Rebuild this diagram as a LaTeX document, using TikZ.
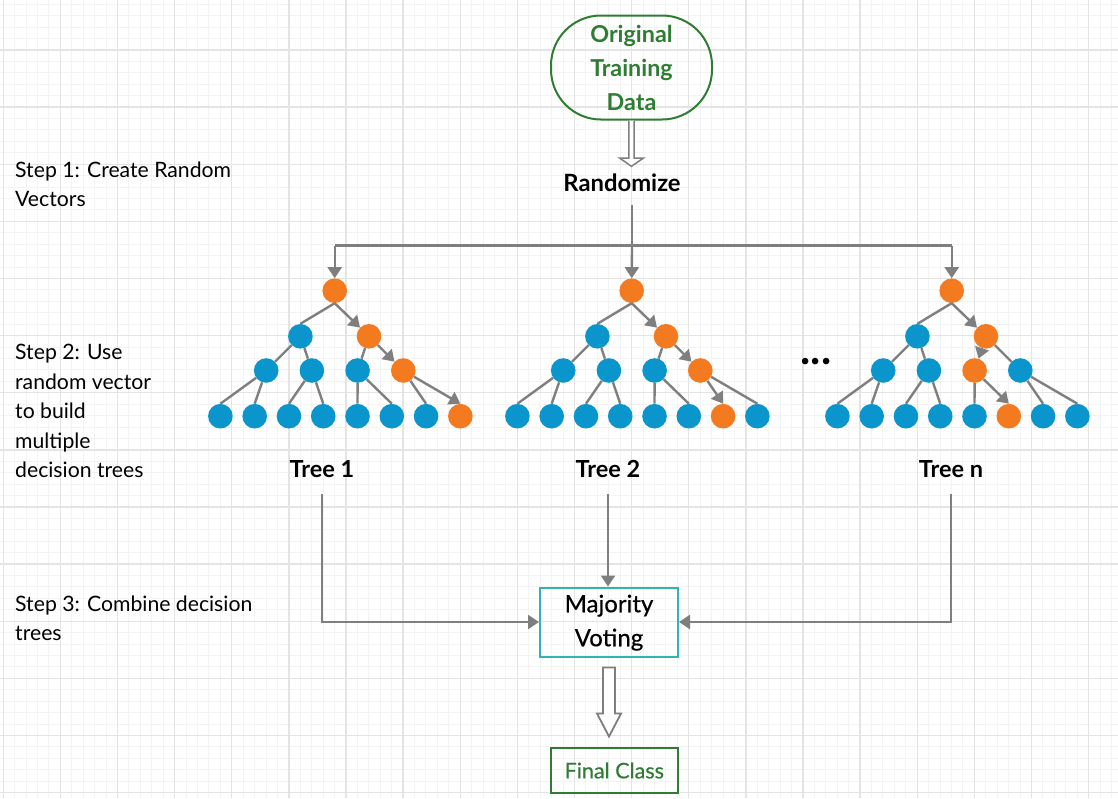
\documentclass[tikz,border=0pt]{standalone}
\usepackage{fontspec}
\setmainfont{Lato}
\newfontfamily\mediumfont[FakeBold=0.5]{Lato}
\usetikzlibrary{arrows.meta,calc}

\definecolor{hotorange}{HTML}{F47A20}
\definecolor{coldblue}{HTML}{0A96CD}
\definecolor{edgegray}{HTML}{7F7F7F}
\definecolor{datagreen}{HTML}{2E7D32}
\definecolor{voteteal}{HTML}{35B3B3}
\definecolor{gridminor}{HTML}{F3F3F3}
\definecolor{gridmajor}{HTML}{E4E4E4}

\tikzset{
  dot/.style={circle, minimum size=24.6pt, inner sep=0pt},
  link/.style={draw=edgegray, line width=2.4pt},
  flow/.style={link, -{Triangle[length=11pt,width=14pt]}},
  hollow/.style={draw=edgegray, fill=white, line width=1.8pt, line join=miter},
  steptext/.style={anchor=base west, align=left, inner sep=0pt, font=\fontsize{21.2}{29.5}\selectfont},
  treelabel/.style={font=\bfseries\fontsize{23.5}{28}\selectfont},
}

\begin{document}
\begin{tikzpicture}[x=1pt,y=-1pt]

% canvas with the drawing grid
\useasboundingbox (0,0) rectangle (1118,798);
\fill[white] (0,0) rectangle (1118,798);
\begin{scope}
\clip (0,0) rectangle (1118,798);
\foreach \i in {-1,...,97} {
    \draw[gridminor, line width=1pt] ({3.3+11.424*\i},0) -- ++(0,798);
}
\foreach \i in {1,...,70} {
    \draw[gridminor, line width=1pt] (0,{-7.1+11.424*\i}) -- ++(1118,0);
}
\foreach \i in {0,...,19} {
    \draw[gridmajor, line width=1.3pt] ({3.3+57.12*\i},0) -- ++(0,798);
}
\foreach \i in {1,...,14} {
    \draw[gridmajor, line width=1.3pt] (0,{-7.1+57.12*\i}) -- ++(1118,0);
}
\end{scope}

% step notes on the left (anchored at the last line)
\node[steptext] (step1) at (15,206.5) {Step 1: Create Random\\Vectors};
\node[steptext] (step2) at (15,477.5) {Step 2: Use\\random vector\\to build\\multiple\\decision trees};
\node[steptext] (step3) at (15,640.5) {Step 3: Combine decision\\trees};

% data and randomizer
\node[draw=datagreen, line width=2pt, rounded corners=50pt, minimum width=161pt, minimum height=104pt,
      text=datagreen, font=\bfseries\fontsize{23.3}{34}\selectfont, align=center, inner sep=0pt]
      (data) at (631.5,67.5) {Original\\Training\\Data};
\node[font=\bfseries\fontsize{23.8}{28}\selectfont] (rand) at (622,183) {Randomize};
\draw[hollow, line width=1.5pt] ([shift={(-2.7,0)}]data.south) -- ++(0,37.5) -- ++(-9.3,0)
    -- ++(12,8.3) -- ++(12,-8.3) -- ++(-9.3,0) -- ++(0,-37.5);

% the trees: x of root / name / orange third-level node / orange leaf
\foreach \tx/\tn/\pb/\pc in {334.7/1/3/7, 631.7/2/3/6, 951.7/n/2/5} {
    \node[dot, fill=hotorange] (t\tn-r) at (\tx,290.7) {};
    \node[dot, fill=coldblue] (t\tn-a0) at (\tx-34.3,336.3) {};
    \node[dot, fill=hotorange] (t\tn-a1) at (\tx+34.3,336.3) {};
    % third level
    \foreach \i in {0,...,3} {
        \ifnum\i=\pb \def\tone{hotorange}\else\def\tone{coldblue}\fi
        \node[dot, fill=\tone] (t\tn-b\i) at ({\tx-68.5+45.7*\i},370.5) {};
    }
    % leaves
    \foreach \j in {0,...,7} {
        \ifnum\j=\pc \def\tone{hotorange}\else\def\tone{coldblue}\fi
        \node[dot, fill=\tone] (t\tn-c\j) at ({\tx-114.3+34.28*\j},416.2) {};
    }
    % branches, arrows follow the orange path
    \draw[link] (t\tn-r.south) -- (t\tn-a0.north);
    \draw[flow] (t\tn-r.south) -- (t\tn-a1);
    \foreach \i in {0,...,3} {
        \pgfmathtruncatemacro\up{\i/2}
        \ifnum\i=\pb
            \draw[flow] (t\tn-a\up) -- (t\tn-b\i);
        \else
            \draw[link] (t\tn-a\up) -- (t\tn-b\i);
        \fi
    }
    \foreach \j in {0,...,7} {
        \pgfmathtruncatemacro\up{\j/2}
        \ifnum\j=\pc
            \draw[flow] (t\tn-b\up) -- (t\tn-c\j.north);
        \else
            \draw[link] (t\tn-b\up) -- (t\tn-c\j.north);
        \fi
    }
}
\node[font=\bfseries\fontsize{43}{43}\selectfont, inner sep=0pt] (more) at (816,362) {...};

% fork from randomizer to the roots
\coordinate (fork) at (632,245.5);
\draw[link, shorten <=10pt] (fork |- rand.south) -- (fork);
\draw[link] (t1-r |- fork) -- (tn-r |- fork);
\draw[flow] (t1-r |- fork) -- (t1-r);
\draw[flow] (fork) -- (t2-r);
\draw[flow] (tn-r |- fork) -- (tn-r);

% tree names and voting
\node[treelabel] (lab1) at (322,469) {Tree 1};
\node[treelabel] (lab2) at (608,469) {Tree 2};
\node[treelabel] (labn) at (951,469) {Tree n};

\node[draw=voteteal, line width=2pt, minimum width=138pt, minimum height=69pt, align=center,
      font=\mediumfont\fontsize{24}{34}\selectfont, inner sep=0pt, text depth=3pt] (vote) at (609,622) {Majority\\Voting};
\draw[flow, shorten <=13pt] (lab1) |- (vote);
\draw[flow, shorten <=13pt] (lab2) -- (lab2 |- vote.north);
\draw[flow, shorten <=13pt] (labn) |- (vote);

\node[draw=datagreen, line width=2pt, minimum width=126.7pt, minimum height=45.6pt, text=datagreen,
      font=\mediumfont\fontsize{21.5}{24}\selectfont] (final) at (614.3,770.5) {Final Class};
\draw[hollow] ([shift={(-6,10)}]vote.south) -- ++(0,46) -- ++(-6,0) -- ++(12,23)
    -- ++(12,-23) -- ++(-6,0) -- ++(0,-46) -- cycle;

\end{tikzpicture}
\end{document}
